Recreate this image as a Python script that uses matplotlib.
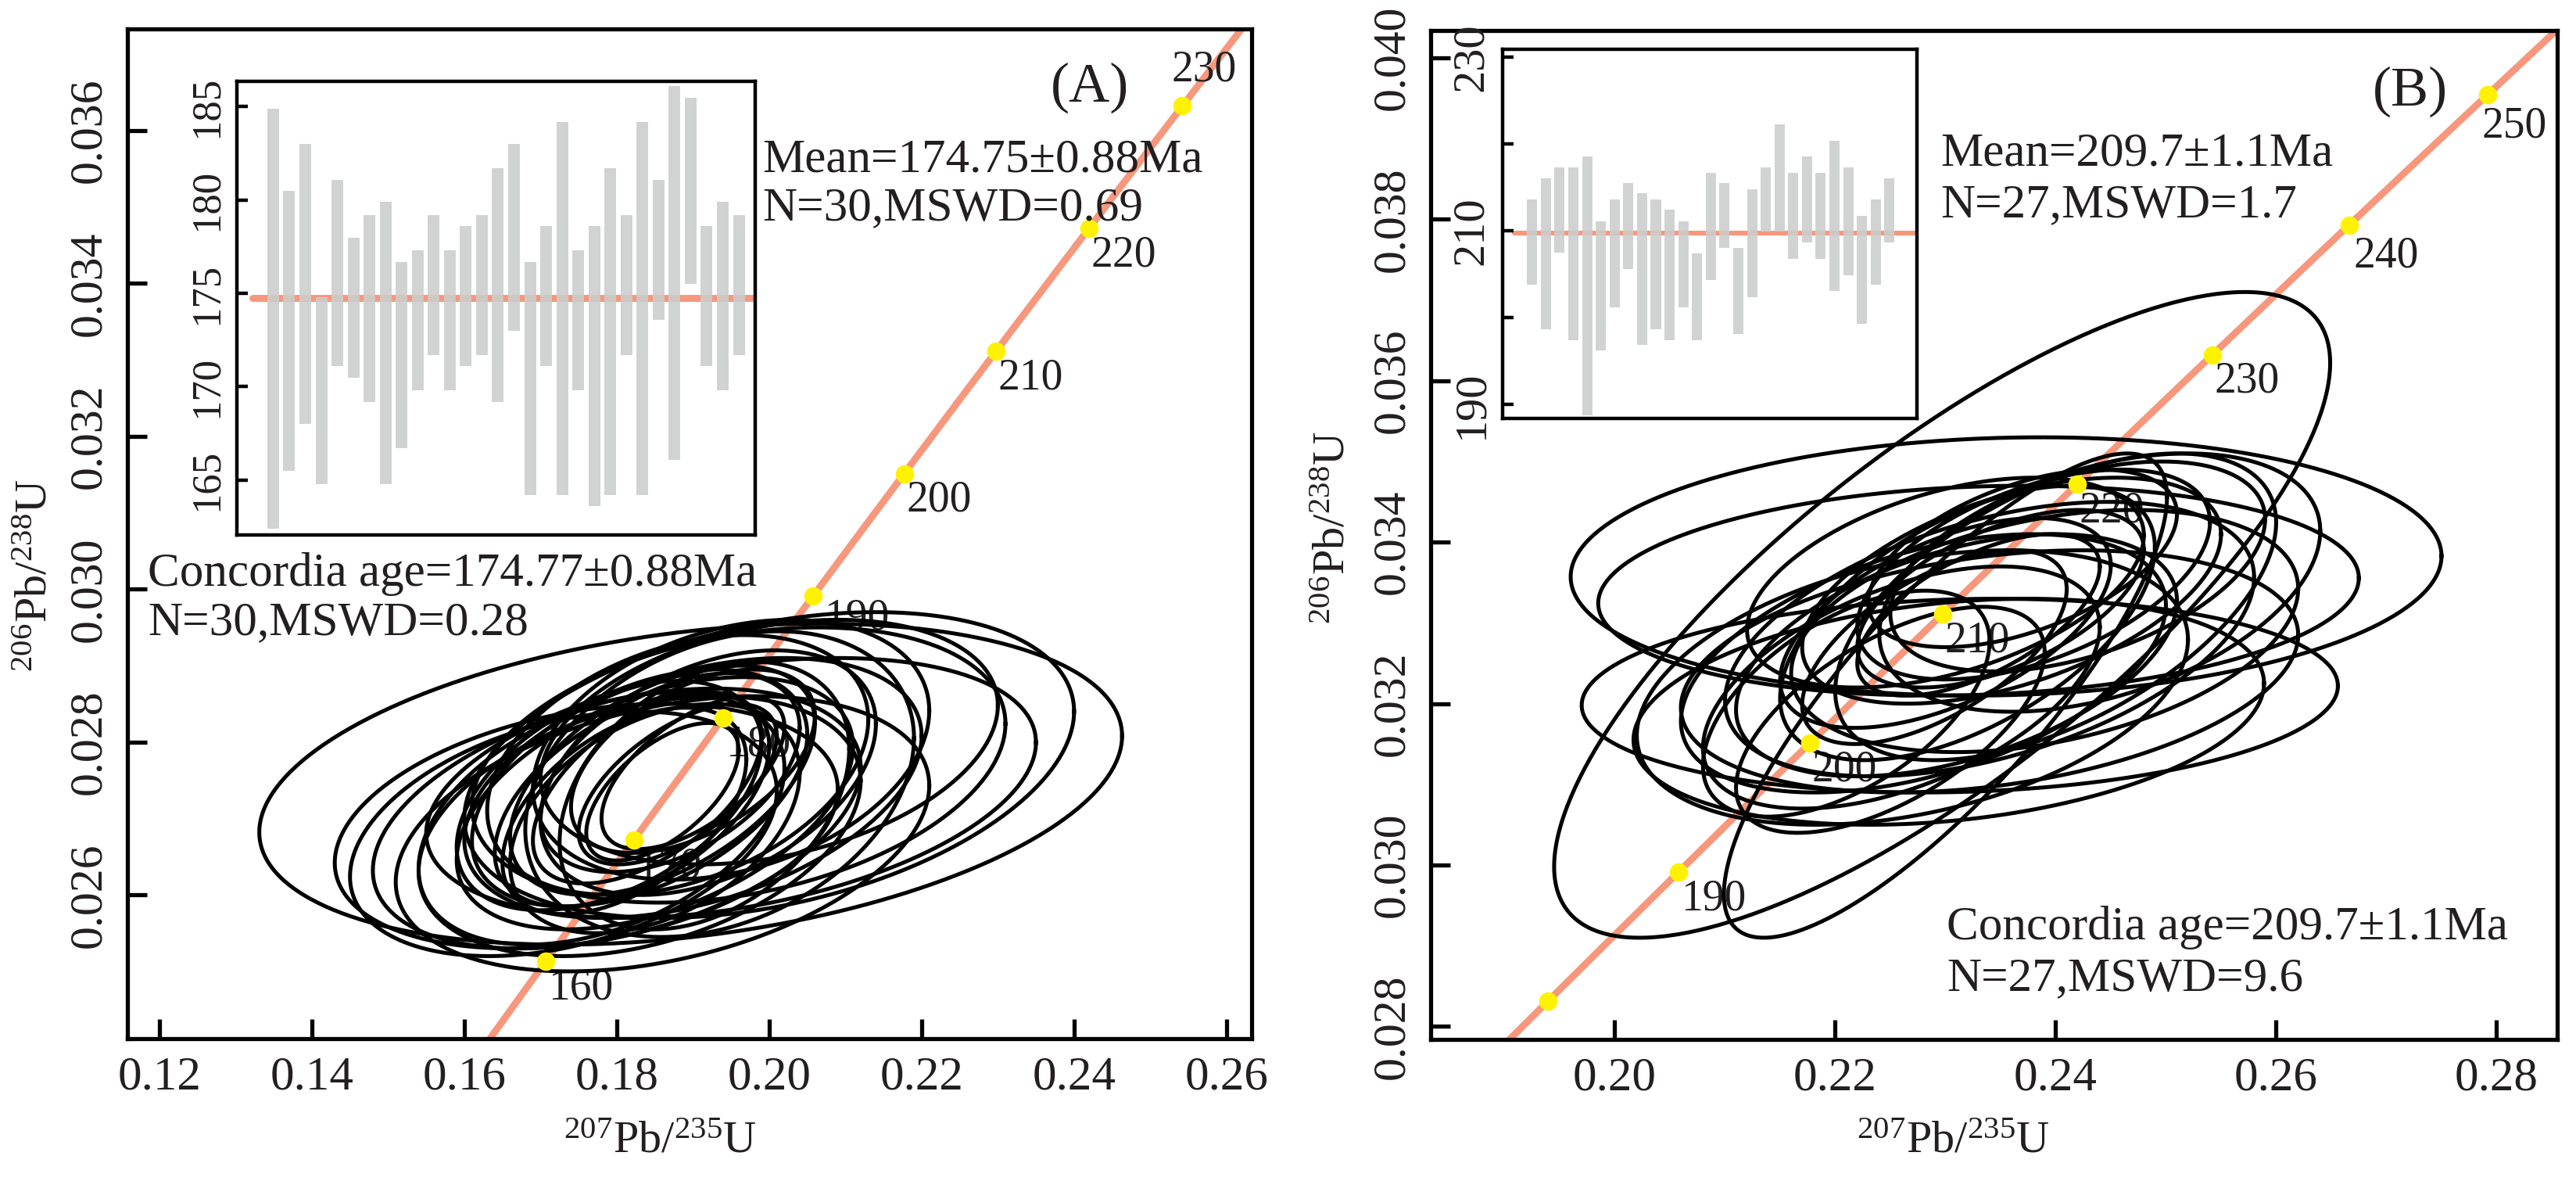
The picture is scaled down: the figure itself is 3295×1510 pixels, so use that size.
import numpy as np
import matplotlib
matplotlib.use("Agg")
import matplotlib.pyplot as plt

plt.rcParams['font.family'] = ['Liberation Serif', 'DejaVu Serif']
plt.rcParams['mathtext.fontset'] = 'custom'
plt.rcParams['mathtext.rm'] = 'Liberation Serif'
plt.rcParams['mathtext.it'] = 'Liberation Serif:italic'
plt.rcParams['mathtext.bf'] = 'Liberation Serif:bold'

# ---------------- data ----------------
# decay constants (per year) for the concordia curve
L238 = 1.55125e-10
L235 = 9.8485e-10

# concordia age marks (Ma)
ages_A = [160, 170, 180, 190, 200, 210, 220, 230]
ages_A_labeled = [160, 170, 180, 190, 200, 210, 220, 230]
ages_B = [180, 190, 200, 210, 220, 230, 240, 250]
ages_B_labeled = [190, 200, 210, 220, 230, 240, 250]

# Panel A error ellipses: centre 207Pb/235U, half-width, centre 206Pb/238U, half-height, rho
a_cx = [0.1897, 0.2000, 0.1860, 0.1760, 0.1800, 0.1950, 0.1900, 0.1850, 0.1880, 0.1830,
        0.1860, 0.1820, 0.1870, 0.1840, 0.1900, 0.1810, 0.1880, 0.1850, 0.1920, 0.1790,
        0.1950, 0.1830, 0.1960, 0.1780, 0.1900, 0.1860, 0.1935, 0.1915, 0.1730, 0.2000]
a_sx = [0.0566, 0.0400, 0.0350, 0.0330, 0.0320, 0.0400, 0.0300, 0.0260, 0.0250, 0.0220,
        0.0200, 0.0180, 0.0170, 0.0150, 0.0160, 0.0160, 0.0130, 0.0190, 0.0220, 0.0200,
        0.0260, 0.0290, 0.0350, 0.0240, 0.0120, 0.0100, 0.0255, 0.0190, 0.0280, 0.0300]
a_cy = [0.02745, 0.02770, 0.02680, 0.02690, 0.02700, 0.02740, 0.02740, 0.02720, 0.02770, 0.02740,
        0.02750, 0.02725, 0.02760, 0.02740, 0.02775, 0.02710, 0.02745, 0.02700, 0.02760, 0.02730,
        0.02790, 0.02690, 0.02770, 0.02700, 0.02760, 0.02735, 0.02745, 0.02730, 0.02680, 0.02800]
a_sy = [0.00210, 0.00200, 0.00180, 0.00160, 0.00170, 0.00170, 0.00170, 0.00165, 0.00170, 0.00155,
        0.00150, 0.00140, 0.00130, 0.00125, 0.00120, 0.00135, 0.00105, 0.00150, 0.00160, 0.00150,
        0.00170, 0.00170, 0.00180, 0.00165, 0.00100, 0.00090, 0.00200, 0.00175, 0.00160, 0.00160]
a_rho = [0.30, 0.35, 0.35, 0.30, 0.40, 0.35, 0.40, 0.45, 0.35, 0.45,
         0.50, 0.50, 0.45, 0.55, 0.50, 0.50, 0.60, 0.40, 0.40, 0.45,
         0.30, 0.35, 0.30, 0.40, 0.60, 0.60, 0.30, 0.35, 0.35, 0.30]

# Panel B error ellipses
b_cx = [0.2297, 0.2300, 0.2355, 0.2330, 0.2313, 0.2303, 0.2400, 0.2320, 0.2340, 0.2280,
        0.2360, 0.2300, 0.2380, 0.2260, 0.2350, 0.2310, 0.2420, 0.2250, 0.2330, 0.2390,
        0.2270, 0.2290, 0.2370, 0.2340, 0.2210, 0.2440, 0.2300]
b_sx = [0.0352, 0.0201, 0.0395, 0.0345, 0.0343, 0.0286, 0.0200, 0.0170, 0.0240, 0.0220,
        0.0190, 0.0150, 0.0160, 0.0180, 0.0130, 0.0200, 0.0170, 0.0140, 0.0110, 0.0230,
        0.0250, 0.0120, 0.0140, 0.0280, 0.0130, 0.0200, 0.0180]
b_cy = [0.0331, 0.0321, 0.0337, 0.0334, 0.0321, 0.0319, 0.0332, 0.0330, 0.0328, 0.0325,
        0.0334, 0.0330, 0.0336, 0.0322, 0.0333, 0.0326, 0.0337, 0.0318, 0.0331, 0.0329,
        0.0322, 0.0327, 0.0338, 0.0324, 0.0320, 0.0335, 0.0335]
b_sy = [0.0040, 0.0030, 0.0016, 0.0013, 0.0012, 0.0014, 0.0019, 0.0017, 0.0017, 0.0016,
        0.0014, 0.0013, 0.0013, 0.0015, 0.0011, 0.0015, 0.0013, 0.0014, 0.0010, 0.0015,
        0.0017, 0.0012, 0.0011, 0.0015, 0.0014, 0.0016, 0.0013]
b_rho = [0.78, 0.82, 0.08, 0.12, 0.10, 0.25, 0.55, 0.55, 0.45, 0.45,
         0.50, 0.55, 0.50, 0.50, 0.55, 0.45, 0.45, 0.60, 0.60, 0.35,
         0.35, 0.60, 0.50, 0.30, 0.55, 0.40, 0.45]

# inset weighted-mean bars (Ma)
barA_top = [184.9, 180.5, 183.0, 174.8, 181.1, 178.0, 179.2, 179.9, 176.7, 177.3,
            179.2, 177.3, 178.6, 179.2, 181.7, 183.0, 176.7, 178.6, 184.2, 177.3,
            178.6, 181.7, 179.2, 184.2, 181.1, 186.1, 185.5, 178.6, 179.9, 179.2]
barA_bot = [162.4, 165.5, 168.0, 164.8, 171.1, 170.5, 169.2, 164.8, 166.7, 169.8,
            171.7, 169.8, 171.1, 171.7, 169.2, 173.0, 164.2, 171.1, 164.2, 169.8,
            163.6, 164.2, 171.7, 164.2, 173.6, 166.1, 175.5, 171.1, 169.8, 171.7]
meanA = 174.75

barB_top = [213.6, 216.0, 217.3, 217.3, 218.6, 211.1, 213.6, 215.5, 214.3, 213.6,
            212.4, 211.1, 207.4, 216.7, 215.5, 208.0, 214.8, 217.3, 222.3, 216.7,
            218.6, 216.7, 220.4, 217.3, 211.7, 213.6, 216.0]
barB_bot = [203.8, 198.7, 207.5, 197.4, 188.8, 196.2, 201.2, 205.6, 196.9, 198.7,
            197.4, 201.2, 197.4, 204.3, 208.0, 198.1, 202.4, 209.9, 209.9, 206.8,
            208.7, 206.8, 203.1, 204.9, 199.3, 203.8, 208.7]
meanB = 209.7

xticks_A = [0.12, 0.14, 0.16, 0.18, 0.20, 0.22, 0.24, 0.26]
yticks_A = [0.026, 0.028, 0.030, 0.032, 0.034, 0.036]
xticks_B = [0.20, 0.22, 0.24, 0.26, 0.28]
yticks_B = [0.028, 0.030, 0.032, 0.034, 0.036, 0.038, 0.040]
insetA_ticks = [165, 170, 175, 180, 185]
insetB_ticks = [190, 200, 210, 220, 230]
insetB_labels = ['190', '', '210', '', '230']

textA = ["Mean=174.75\u00b10.88Ma", "N=30,MSWD=0.69",
         "Concordia age=174.77\u00b10.88Ma", "N=30,MSWD=0.28"]
textB = ["Mean=209.7\u00b11.1Ma", "N=27,MSWD=1.7",
         "Concordia age=209.7\u00b11.1Ma", "N=27,MSWD=9.6"]

# ---------------- style ----------------
W, H = 3295, 1510
DPI = 200
TXT = '#231F20'
SALMON = '#F7977C'
YELLOW = '#FFF200'
GRAY = '#CBCDCC'

fig = plt.figure(figsize=(W / DPI, H / DPI), dpi=DPI)


def rect(l, t, r, b):
    return [l / W, 1 - b / H, (r - l) / W, (b - t) / H]


def fpos(px, py):
    return px / W, 1 - py / H


def concordia(t_ma):
    t = np.asarray(t_ma, dtype=float) * 1e6
    return np.exp(L235 * t) - 1, np.exp(L238 * t) - 1


def ellipse(cx, sx, cy, sy, rho):
    t = np.linspace(0, 2 * np.pi, 361)
    x = cx + sx * np.cos(t)
    y = cy + sy * (rho * np.cos(t) + np.sqrt(1 - rho ** 2) * np.sin(t))
    return x, y


def main_panel(ax, xlim, ylim, xticks, yticks, ages, ages_lab, ell, special_offsets):
    ax.set_xlim(*xlim)
    ax.set_ylim(*ylim)
    ax.set_xticks(xticks)
    ax.set_yticks(yticks)
    ax.set_xticklabels(['%.2f' % v for v in xticks])
    ax.set_yticklabels(['%.3f' % v for v in yticks])
    for s in ax.spines.values():
        s.set_linewidth(1.9)
        s.set_color('black')
    ax.tick_params(axis='both', direction='in', length=9, width=1.9,
                   top=False, right=False, colors='black', labelcolor=TXT)
    ax.tick_params(axis='x', pad=8, labelsize=22)
    ax.tick_params(axis='y', pad=8, labelsize=21.5)
    for lab in ax.get_yticklabels():
        lab.set_rotation(90)
        lab.set_va('center')
    # concordia curve
    tt = np.linspace(100, 300, 600)
    cxs, cys = concordia(tt)
    ax.plot(cxs, cys, color=SALMON, lw=3.2, zorder=1, solid_capstyle='butt')
    # age labels
    for a in ages_lab:
        px, py = concordia(a)
        off = special_offsets.get(a, (1, -3))
        va = 'bottom' if off[1] > 0 else 'top'
        ax.annotate(str(a), (px, py), xytext=off, textcoords='offset points',
                    ha='left', va=va, fontsize=20, color=TXT, zorder=2,
                    annotation_clip=True)
    # ellipses
    for cx, sx, cy, sy, r in zip(*ell):
        ex, ey = ellipse(cx, sx, cy, sy, r)
        ax.plot(ex, ey, color='black', lw=1.8, zorder=3)
    # age dots
    px, py = concordia(ages)
    ax.plot(px, py, 'o', color=YELLOW, ms=8.5, mec='none', zorder=4)


def inset_panel(ax, top, bot, mean, xlim, ylim, ticks, ticklabels, lw_mean, width, labelsize):
    idx = np.arange(1, len(top) + 1)
    ax.set_xlim(*xlim)
    ax.set_ylim(*ylim)
    ax.plot([-0.3, xlim[1]], [mean, mean], color=SALMON, lw=lw_mean, zorder=1,
            solid_capstyle='round')
    heights = np.array(top) - np.array(bot)
    ax.bar(idx, heights, bottom=bot, width=width, color=GRAY, alpha=0.88,
           edgecolor='none', zorder=2)
    ax.set_xticks([])
    ax.set_yticks(ticks)
    ax.set_yticklabels(ticklabels)
    for s in ax.spines.values():
        s.set_linewidth(1.6)
        s.set_color('black')
    ax.tick_params(axis='y', direction='in', length=5, width=1.6, pad=5,
                   labelsize=labelsize, labelcolor=TXT)
    for lab in ax.get_yticklabels():
        lab.set_rotation(90)
        lab.set_va('center')


# ---------------- Panel A ----------------
axA = fig.add_axes(rect(163, 37, 1601, 1328))
main_panel(axA, (0.1158, 0.2633), (0.02412, 0.03733), xticks_A, yticks_A,
           ages_A, ages_A_labeled, (a_cx, a_sx, a_cy, a_sy, a_rho),
           {230: (-5, 7), 190: (5, -1)})
axA.set_xlabel(r'$^{207}$Pb/$^{235}$U', fontsize=21, color=TXT)
axA.xaxis.set_label_coords(0.474, -0.1015)
axA.xaxis.label.set_va('center')
axA.set_ylabel(r'$^{206}$Pb/$^{238}$U', fontsize=21, color=TXT, va='center')
axA.yaxis.set_label_coords(-0.082, 0.4586)

insA = fig.add_axes(rect(303, 104, 966, 684))
inset_panel(insA, barA_top, barA_bot, meanA, (-1.26, 31.02), (162.06, 186.36),
            insetA_ticks, [str(v) for v in insetA_ticks], 3.2, 0.73, 19)

# ---------------- Panel B ----------------
axB = fig.add_axes(rect(1830, 39, 3271, 1329))
main_panel(axB, (0.1833, 0.2855), (0.02784, 0.04034), xticks_B, yticks_B,
           ages_B, ages_B_labeled, (b_cx, b_sx, b_cy, b_sy, b_rho),
           {250: (-2.5, -5), 240: (2, -5)})
axB.set_xlabel(r'$^{207}$Pb/$^{235}$U', fontsize=21, color=TXT)
axB.xaxis.set_label_coords(0.4636, -0.1008)
axB.xaxis.label.set_va('center')
axB.set_ylabel(r'$^{206}$Pb/$^{238}$U', fontsize=21, color=TXT, va='center')
axB.yaxis.set_label_coords(-0.0867, 0.507)

insB = fig.add_axes(rect(1922, 63, 2452, 535))
inset_panel(insB, barB_top, barB_bot, meanB, (-1.15, 29.0), (188.4, 230.9),
            insetB_ticks, insetB_labels, 2.2, 0.74, 21)

# ---------------- annotations ----------------
def ftext(px, py, s, **kw):
    x, y = fpos(px, py)
    fig.text(x, y, s, color=TXT, **kw)

ftext(1394, 112, '(A)', fontsize=26, ha='center', va='center')
ftext(975, 219, textA[0], fontsize=22, ha='left', va='baseline')
ftext(975, 281, textA[1], fontsize=22, ha='left', va='baseline')
ftext(189, 749, textA[2], fontsize=22, ha='left', va='baseline')
ftext(189, 811, textA[3], fontsize=22, ha='left', va='baseline')

ftext(3083, 117, '(B)', fontsize=26, ha='center', va='center')
ftext(2482, 212, textB[0], fontsize=22, ha='left', va='baseline')
ftext(2482, 277, textB[1], fontsize=22, ha='left', va='baseline')
ftext(2490, 1201, textB[2], fontsize=22, ha='left', va='baseline')
ftext(2490, 1266, textB[3], fontsize=22, ha='left', va='baseline')

fig.savefig('out.png', dpi=DPI)
